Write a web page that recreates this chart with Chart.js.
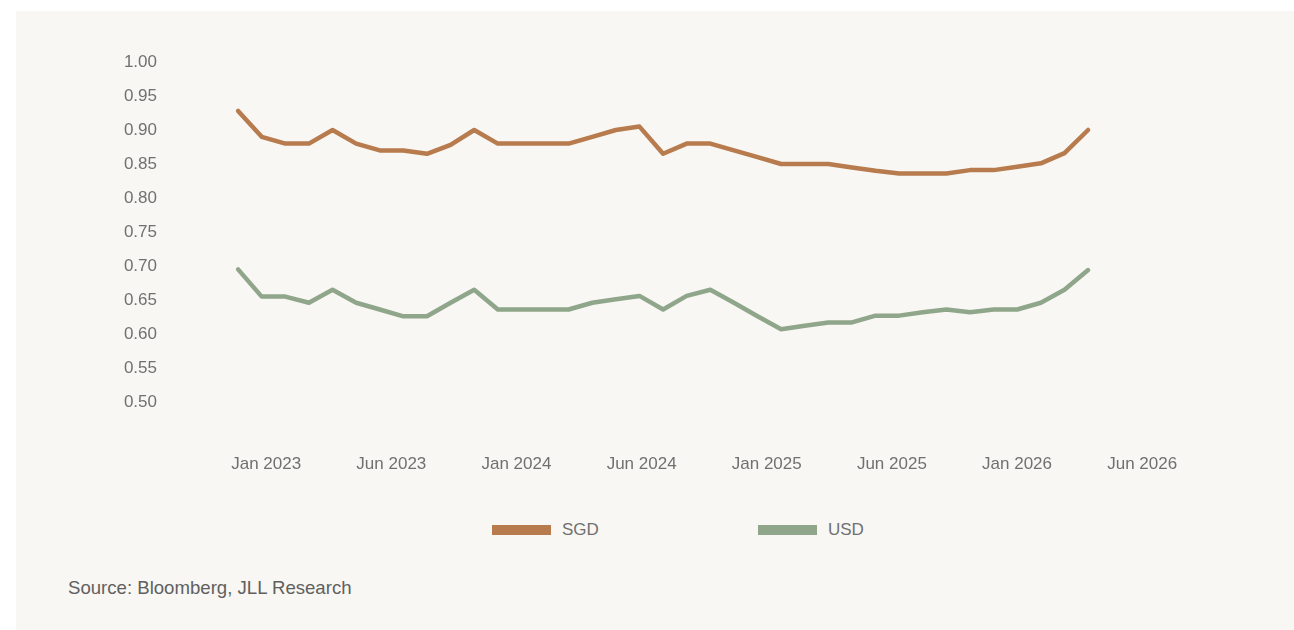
<!DOCTYPE html>
<html>
<head>
<meta charset="utf-8">
<script src="https://cdn.jsdelivr.net/npm/chart.js@4"></script>
<style>
    body { margin: 0; background: #ffffff; font-family: "Liberation Sans", Arial, sans-serif; }
    #panel { position: absolute; left: 16px; top: 11px; width: 1278px; height: 619px; background: #f8f7f3; }
    #wrap { position: absolute; left: 0; top: 0; width: 1278px; height: 479px; }
    .legend-item { position: absolute; top: 509px; height: 20px; display: flex; align-items: center; font-size: 17px; color: #707070; }
    .legend-item span.swatch { display: inline-block; width: 59px; height: 10px; margin-right: 11px; }
    #source { position: absolute; left: 52px; top: 566px; font-size: 18.6px; color: #606060; }
</style>
</head>
<body>
<div id="panel">
    <div id="wrap"><canvas id="graph1" width="1278" height="479"></canvas></div>
    <div class="legend-item" style="left:476px"><span class="swatch" style="background:#b77b4e"></span>SGD</div>
    <div class="legend-item" style="left:742px"><span class="swatch" style="background:#8fa68b"></span>USD</div>
    <div id="source">Source: Bloomberg, JLL Research</div>
</div>
<script>
// monthly readings, Dec 2022 onwards
const sgd = [0.928, 0.89, 0.88, 0.88, 0.90, 0.88, 0.87, 0.87, 0.865, 0.878, 0.90,
    0.88, 0.88, 0.88, 0.88, 0.89, 0.90, 0.905, 0.865, 0.88, 0.88, 0.87, 0.86, 0.85,
    0.85, 0.85, 0.845, 0.84, 0.836, 0.836, 0.836, 0.841, 0.841, 0.846, 0.851, 0.866, 0.90];
const usd = [0.695, 0.655, 0.655, 0.646, 0.665, 0.646, 0.636, 0.626, 0.626, 0.646, 0.665,
    0.636, 0.636, 0.636, 0.636, 0.646, 0.651, 0.656, 0.636, 0.656, 0.665, 0.646, 0.626, 0.607,
    0.612, 0.617, 0.617, 0.627, 0.627, 0.632, 0.636, 0.632, 0.636, 0.636, 0.646, 0.665, 0.694];
const tickLabels = ['Jan 2023', 'Jun 2023', 'Jan 2024', 'Jun 2024', 'Jan 2025', 'Jun 2025', 'Jan 2026', 'Jun 2026'];
const firstTick = 1.19;
const tickStep = 5.3;

const toPoints = arr => arr.map((v, i) => ({x: i, y: v}));

const ctx = document.querySelector('#graph1').getContext('2d');
const tickFont = {family: '"Liberation Sans", Arial, sans-serif', size: 17};

const lineChart = new Chart(ctx, {
    type: 'line',
    data: {
        datasets: [{
            label: 'SGD',
            data: toPoints(sgd),
            borderColor: '#b77b4e',
            borderWidth: 4.5,
            pointRadius: 0,
            borderCapStyle: 'round',
            borderJoinStyle: 'round'
        }, {
            label: 'USD',
            data: toPoints(usd),
            borderColor: '#8fa68b',
            borderWidth: 4.5,
            pointRadius: 0,
            borderCapStyle: 'round',
            borderJoinStyle: 'round'
        }]
    },
    options: {
        responsive: false,
        animation: false,
        layout: {padding: {top: 51, right: 94, bottom: 0, left: 0}},
        plugins: {
            legend: {display: false},
            tooltip: {enabled: false}
        },
        scales: {
            x: {
                type: 'linear',
                min: -2.63,
                max: 40.74,
                grid: {display: false, drawTicks: false},
                border: {display: false},
                afterBuildTicks: scale => {
                    scale.ticks = tickLabels.map((l, i) => ({value: firstTick + i * tickStep}));
                },
                afterFit: scale => { scale.height = 88; },
                ticks: {
                    autoSkip: false,
                    maxRotation: 0,
                    padding: 52,
                    color: '#707070',
                    font: tickFont,
                    callback: (v, i) => tickLabels[i]
                }
            },
            y: {
                min: 0.5,
                max: 1.0,
                grid: {display: false, drawTicks: false},
                border: {display: false},
                afterFit: scale => { scale.width = 160; },
                ticks: {
                    stepSize: 0.05,
                    padding: 19,
                    color: '#707070',
                    font: tickFont,
                    callback: v => v.toFixed(2)
                }
            }
        }
    }
});
</script>
</body>
</html>
